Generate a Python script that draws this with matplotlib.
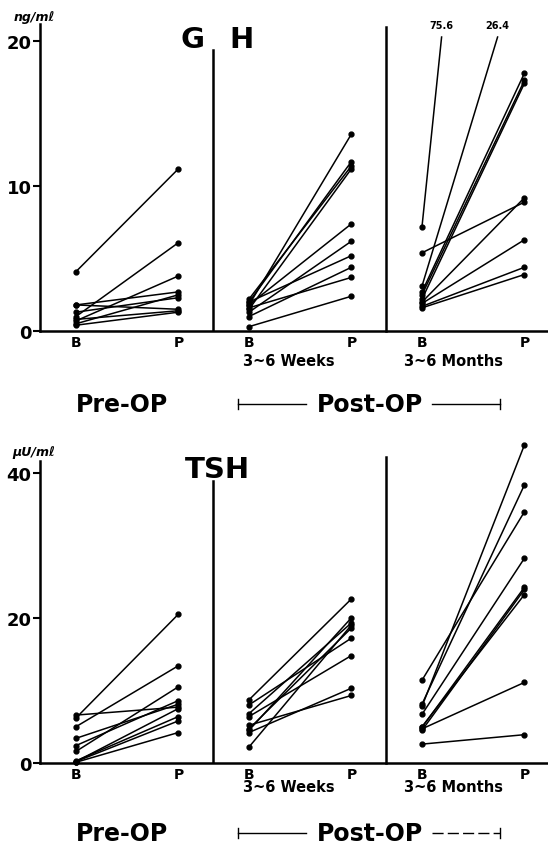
import numpy as np
import matplotlib.pyplot as plt

# GH (ng/ml), basal B -> peak P, one entry per patient
gh_pre_b = [4.1, 1.0, 0.7, 1.8, 1.8, 1.3, 0.5, 0.8, 0.4]
gh_pre_p = [11.2, 6.1, 3.8, 2.7, 1.5, 2.3, 2.5, 1.4, 1.3]
gh_wk_b = [1.8, 2.0, 2.2, 1.5, 1.8, 1.3, 2.0, 1.0, 1.6, 0.3]
gh_wk_p = [13.6, 11.7, 11.4, 11.2, 7.4, 6.2, 5.2, 4.4, 3.7, 2.4]
gh_mo_b = [7.2, 3.1, 2.7, 2.5, 2.2, 5.4, 2.0, 1.9, 1.7, 1.6]
gh_mo_p = [75.6, 26.4, 17.8, 17.3, 17.1, 8.9, 9.2, 6.3, 4.4, 3.9]

# TSH (uU/ml)
tsh_pre_b = [6.2, 5.0, 6.6, 3.4, 2.4, 1.6, 0.3, 0.2, 0.1, 0.2]
tsh_pre_p = [20.5, 13.4, 7.7, 8.1, 8.6, 10.5, 6.4, 5.8, 4.2, 7.5]
tsh_wk_b = [8.7, 6.8, 4.5, 8.0, 6.4, 2.2, 4.7, 4.2, 5.2]
tsh_wk_p = [22.6, 19.3, 20.0, 17.2, 14.8, 19.0, 18.6, 10.3, 9.3]
tsh_mo_b = [7.8, 8.1, 11.4, 6.7, 4.9, 4.5, 5.0, 4.7, 2.6]
tsh_mo_p = [43.8, 38.3, 34.6, 28.2, 24.2, 23.9, 23.2, 11.1, 3.9]

xb, xp = 0.208, 0.80   # B and P position inside each panel
W, H = 548, 853


def fx(px):
    return px / W


def fy(py):
    return 1 - py / H


def draw(ax, panels, ymax, cut=None):
    for i, (bs, ps) in enumerate(panels):
        for b, p in zip(bs, ps):
            x0, x1 = i + xb, i + xp
            if cut is not None and p > cut:
                # off-scale value: stop the line at the cut and write the value
                xe = x0 + (x1 - x0) * (cut - b) / (p - b)
                ax.plot([x0, xe], [b, cut], color='k', lw=1.1)
                ax.plot(x0, b, 'o', color='k', ms=3.5)
                ax.text(xe, cut + 0.5, f'{p}', ha='center', va='bottom',
                        fontsize=7, fontweight='bold')
            else:
                ax.plot([x0, x1], [b, p], '-o', color='k', lw=1.1, ms=3.5,
                        clip_on=False)
    ax.set_xlim(0, 508 / 173)
    ax.set_ylim(0, ymax)
    for s in ['top', 'right']:
        ax.spines[s].set_visible(False)
    for s in ['left', 'bottom']:
        ax.spines[s].set_linewidth(1.8)
    ax.set_xticks([xb, xp, 1 + xb, 1 + xp, 2 + xb, 2 + xp])
    ax.set_xticklabels(['B', 'P'] * 3, fontsize=10, fontweight='bold')
    ax.tick_params(axis='x', length=0, pad=3)
    ax.tick_params(axis='y', length=5, width=1.5, labelsize=13, pad=1)
    for lab in ax.get_yticklabels():
        lab.set_fontweight('bold')


fig = plt.figure(figsize=(W / 100, H / 100), dpi=100)

ax1 = fig.add_axes([fx(40), fy(332), 508 / W, 307 / H])
draw(ax1, [(gh_pre_b, gh_pre_p), (gh_wk_b, gh_wk_p), (gh_mo_b, gh_mo_p)],
     21.2, cut=20.3)
ax1.set_yticks([0, 10, 20])
ax1.plot([1, 1], [0, 19.4], color='k', lw=1.8)
ax1.plot([2, 2], [0, 21.0], color='k', lw=1.8, clip_on=False)

ax2 = fig.add_axes([fx(40), fy(764), 508 / W, 302 / H])
draw(ax2, [(tsh_pre_b, tsh_pre_p), (tsh_wk_b, tsh_wk_p), (tsh_mo_b, tsh_mo_p)],
     41.6)
ax2.set_yticks([0, 20, 40])
ax2.plot([1, 1], [0, 38.8], color='k', lw=1.8)
ax2.plot([2, 2], [0, 42.2], color='k', lw=1.8, clip_on=False)

# units and hormone names
fig.text(fx(14), fy(17), 'ng/mℓ', fontsize=9, fontweight='bold', style='italic', va='center')
fig.text(fx(12), fy(453), 'μU/mℓ', fontsize=9, fontweight='bold', style='italic', va='center')
fig.text(fx(192), fy(40), 'G', fontsize=21, fontweight='bold', ha='center', va='center')
fig.text(fx(242), fy(40), 'H', fontsize=21, fontweight='bold', ha='center', va='center')
fig.text(fx(217), fy(470), 'TSH', fontsize=21, fontweight='bold', ha='center', va='center')

# period labels under each chart
for y_sub, y_op, dashed in [(361, 405, False), (788, 834, True)]:
    fig.text(fx(289), fy(y_sub), '3~6 Weeks', fontsize=10.5, fontweight='bold',
             ha='center', va='center')
    fig.text(fx(454), fy(y_sub), '3~6 Months', fontsize=10.5, fontweight='bold',
             ha='center', va='center')
    fig.text(fx(122), fy(y_op), 'Pre-OP', fontsize=17, fontweight='bold',
             ha='center', va='center')
    fig.text(fx(370), fy(y_op), 'Post-OP', fontsize=17, fontweight='bold',
             ha='center', va='center')
    fig.add_artist(plt.Line2D([fx(238), fx(306)], [fy(y_op), fy(y_op)], color='k', lw=1))
    fig.add_artist(plt.Line2D([fx(432), fx(500)], [fy(y_op), fy(y_op)], color='k', lw=1,
                              ls=(0, (8, 3)) if dashed else '-'))
    for xe in (238, 500):
        fig.add_artist(plt.Line2D([fx(xe), fx(xe)], [fy(y_op - 5), fy(y_op + 5)],
                                  color='k', lw=1))

fig.savefig('out.png', dpi=100)
